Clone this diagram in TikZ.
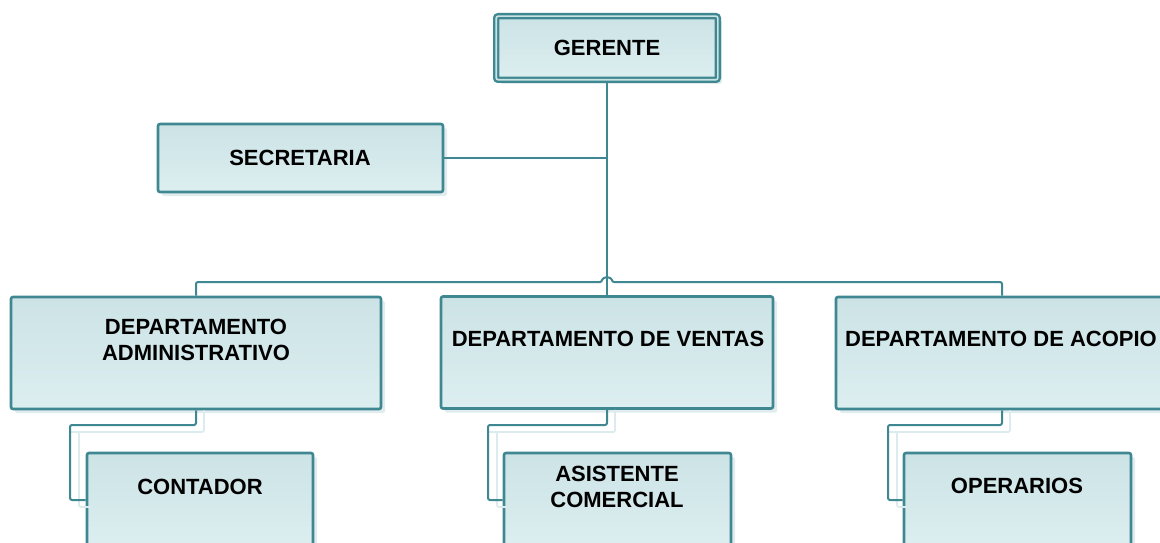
\documentclass[tikz,border=0pt]{standalone}
\usepackage{fontspec}
\setmainfont{Liberation Sans}
\usetikzlibrary{calc,shadows}
\definecolor{edge}{HTML}{3F8891}
\definecolor{fillA}{HTML}{CCE3E6}
\definecolor{fillB}{HTML}{DCEEF0}
\definecolor{shad}{HTML}{E0ECEE}
\definecolor{lineshad}{HTML}{DCEBEE}
\begin{document}
\begin{tikzpicture}[x=1pt,y=-1pt,
  box/.style={draw=edge, line width=2.6pt, rounded corners=2pt,
    top color=fillA, bottom color=fillB, inner sep=0pt,
    drop shadow={shadow xshift=4pt, shadow yshift=-4pt, fill=shad, opacity=1}},
  bossbox/.style={draw=edge, line width=2.4pt, double=fillA, double distance=1.6pt,
    rounded corners=2pt, top color=fillA, bottom color=fillB, inner sep=0pt,
    drop shadow={shadow xshift=4pt, shadow yshift=-4pt, fill=shad, opacity=1}},
  conn/.style={draw=edge, line width=2pt, rounded corners=2pt},
  connshad/.style={draw=lineshad, line width=1.8pt, rounded corners=2pt},
  txt/.style={font=\fontsize{22}{26}\selectfont\bfseries, align=center, inner sep=0pt}]
\useasboundingbox (0,0) rectangle (1160,543);
\clip (0,0) rectangle (1160,543);

% boxes
\node[bossbox, minimum width=221.6pt, minimum height=63.6pt] (gerente) at (607,48) {};
\node[box, minimum width=285pt, minimum height=68pt] (secretaria) at (300.5,158) {};
\node[box, minimum width=370pt, minimum height=112pt] (admin) at (196,353) {};
\node[box, minimum width=332pt, minimum height=112pt] (ventas) at (607,352.5) {};
\node[box, minimum width=332pt, minimum height=112pt] (acopio) at (1002,353) {};
\node[box, minimum width=226pt, minimum height=94pt] (contador) at (200,500) {};
\node[box, minimum width=227pt, minimum height=94pt] (asistente) at (617.5,500) {};
\node[box, minimum width=227pt, minimum height=94pt] (operarios) at (1017.5,500) {};

% texts
\node[txt] (t-gerente) at (607,48) {GERENTE};
\node[txt] (t-secretaria) at (300,158) {SECRETARIA};
\node[txt] (t-admin) at (196,340) {DEPARTAMENTO\\ADMINISTRATIVO};
\node[txt] (t-ventas) at (608,339) {DEPARTAMENTO DE VENTAS};
\node[txt] (t-acopio) at (1001,339) {DEPARTAMENTO DE ACOPIO};
\node[txt] (t-contador) at (200,487) {CONTADOR};
\node[txt] (t-asistente) at (617,487) {ASISTENTE\\COMERCIAL};
\node[txt] (t-operarios) at (1017,486) {OPERARIOS};

% connectors
\coordinate (bus) at (607,282);
\draw[conn] (gerente.south) -- (ventas.north);
\draw[conn] (secretaria.east) -- (secretaria.east -| gerente.south);
\draw[conn] (admin.north) |- ($(bus)+(-5,0)$)
  arc[start angle=180, end angle=0, radius=5pt] -| (acopio.north);

% sub connectors with light shadow
\foreach \p/\c/\x in {admin/contador/70, ventas/asistente/488, acopio/operarios/888}{
  \draw[connshad] ($(\p.south)+(8,0)$) |- ($(\x,432)$) -- ($(\x,432)+(9,0)$) |- ($(\c.west)+(6,7)$);
  \draw[conn] (\p.south) |- (\x,425) |- (\c.west);
}
\end{tikzpicture}
\end{document}
